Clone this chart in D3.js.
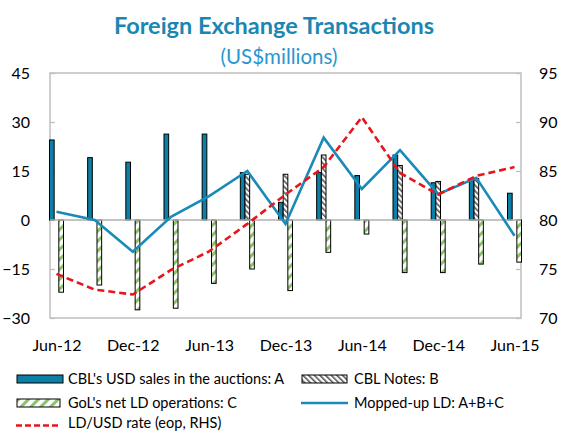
<!DOCTYPE html>
<head>
  <meta charset="utf-8">
  <script src="https://d3js.org/d3.v7.min.js"></script>
  <style>
    body { margin:0; padding:0; background:#fff; }
    text { font-family: Lato, "Open Sans", sans-serif; fill:#000; }
  </style>
</head>
<body>
  <svg id="chart" width="562" height="431"></svg>
  <script>
    var width  = 562;
    var height = 431;

    // quarterly data, US$ millions (left axis) and LD per USD (right axis)
    var quarters  = ["Jun-12","Sep-12","Dec-12","Mar-13","Jun-13","Sep-13","Dec-13",
                     "Mar-14","Jun-14","Sep-14","Dec-14","Mar-15","Jun-15"];
    var tickLabels = ["Jun-12","Dec-12","Jun-13","Dec-13","Jun-14","Dec-14","Jun-15"];
    var cblSales  = [24.5, 19.1, 17.7, 26.3, 26.3, 14.5, 5.4, 14.5, 13.6, 19.9, 11.4, 12.7, 8.2];
    var cblNotes  = [0, 0, 0, 0, 0, 14.0, 14.0, 19.9, 0, 16.7, 11.8, 12.7, 0];
    var golOps    = [-22.1, -19.9, -27.5, -27.0, -19.4, -15.0, -21.6, -9.9, -4.3, -16.1, -16.1, -13.5, -12.9];
    var moppedUp  = [2.5, 0, -9.7, 1.0, 7.3, 15.0, -1.2, 25.2, 9.5, 21.4, 7.9, 12.9, -4.8];
    var ldRate    = [74.5, 72.9, 72.4, 74.9, 76.8, 79.6, 82.6, 85.4, 90.5, 84.8, 82.6, 84.5, 85.4];
    var leftTicks  = [-30, -15, 0, 15, 30, 45];
    var rightTicks = [70, 75, 80, 85, 90, 95];

    var plot = { left: 50, right: 521, top: 73, bottom: 318 };

    var svg = d3.select("#chart");
    var defs = svg.append("defs");

    // hatch for CBL notes (dark back-slash stripes)
    var pb = defs.append("pattern").attr("id", "hatchB")
        .attr("patternUnits", "userSpaceOnUse").attr("width", 4).attr("height", 4)
        .attr("patternTransform", "rotate(-45)");
    pb.append("rect").attr("width", 4).attr("height", 4).attr("fill", "#fff");
    pb.append("rect").attr("width", 1.6).attr("height", 4).attr("fill", "#555");

    // hatch for GoL ops (green forward-slash stripes)
    var pc = defs.append("pattern").attr("id", "hatchC")
        .attr("patternUnits", "userSpaceOnUse").attr("width", 7).attr("height", 7)
        .attr("patternTransform", "rotate(45)");
    pc.append("rect").attr("width", 7).attr("height", 7).attr("fill", "#fff");
    pc.append("rect").attr("width", 3).attr("height", 7).attr("fill", "#8cc36a");

    var x = d3.scalePoint().domain(quarters).range([plot.left, plot.right]).padding(0.17);
    var inner = d3.scaleBand().domain(["A", "B", "C"]).range([-7, 7]);
    var y = d3.scaleLinear().domain([-30, 45]).range([plot.bottom, plot.top]);
    var y2 = d3.scaleLinear().domain([70, 95]).range([plot.bottom, plot.top]);

    // title
    svg.append("text").attr("x", 274).attr("y", 34).attr("text-anchor", "middle")
      .style("font-size", "23.5px").style("font-weight", "bold").style("fill", "#1a87b2")
      .text("Foreign Exchange Transactions");
    svg.append("text").attr("x", 279).attr("y", 64).attr("text-anchor", "middle")
      .style("font-size", "20.5px").style("fill", "#2b96cf")
      .text("(US$millions)");

    // axes (ticks point inwards)
    var gl = svg.append("g").attr("transform", "translate(" + plot.left + ",0)")
      .call(d3.axisLeft(y).tickValues(leftTicks).tickSizeInner(-5).tickSizeOuter(0).tickPadding(20));
    var gr = svg.append("g").attr("transform", "translate(" + plot.right + ",0)")
      .call(d3.axisRight(y2).tickValues(rightTicks).tickSizeInner(-5).tickSizeOuter(0).tickPadding(18));
    [gl, gr].forEach(function(g) {
      g.select(".domain").remove();
      g.selectAll(".tick line").attr("stroke", "#bfbfbf").attr("stroke-width", 1.3);
      g.selectAll(".tick text").style("font-size", "16px").attr("fill", "#000");
    });

    var gx = svg.append("g").attr("transform", "translate(0," + plot.bottom + ")")
      .call(d3.axisBottom(x).tickValues(tickLabels).tickSize(0).tickPadding(22));
    gx.select(".domain").remove();
    gx.selectAll(".tick text").style("font-size", "16px").attr("fill", "#000");

    // frame
    svg.append("rect").attr("x", plot.left).attr("y", plot.top)
      .attr("width", plot.right - plot.left).attr("height", plot.bottom - plot.top)
      .attr("fill", "none").attr("stroke", "#bfbfbf").attr("stroke-width", 1.5);

    // bars
    var series = [
      { key: "A", values: cblSales, fill: "#0b7fa6" },
      { key: "B", values: cblNotes, fill: "url(#hatchB)" },
      { key: "C", values: golOps,   fill: "url(#hatchC)" }
    ];
    series.forEach(function(s) {
      svg.append("g").selectAll("rect")
        .data(s.values.map(function(v, i) { return { q: quarters[i], v: v }; })
                      .filter(function(d) { return d.v !== 0; }))
        .join("rect")
          .attr("x", function(d) { return x(d.q) + inner(s.key); })
          .attr("width", inner.bandwidth())
          .attr("y", function(d) { return y(Math.max(0, d.v)); })
          .attr("height", function(d) { return Math.abs(y(d.v) - y(0)); })
          .attr("fill", s.fill)
          .attr("stroke", "#000").attr("stroke-width", 1);
    });

    // zero line
    svg.append("line").attr("x1", plot.left).attr("x2", plot.right)
      .attr("y1", y(0)).attr("y2", y(0))
      .attr("stroke", "#b0b0b0").attr("stroke-width", 1.5);

    // lines
    var lineL = d3.line().x(function(d, i) { return x(quarters[i]); }).y(function(d) { return y(d); });
    var lineR = d3.line().x(function(d, i) { return x(quarters[i]); }).y(function(d) { return y2(d); });

    svg.append("path").attr("d", lineL(moppedUp))
      .attr("fill", "none").attr("stroke", "#1a8ab8").attr("stroke-width", 2.6);
    svg.append("path").attr("d", lineR(ldRate))
      .attr("fill", "none").attr("stroke", "#e8161b").attr("stroke-width", 2.6)
      .attr("stroke-dasharray", "7,4");

    // legend
    var lg = svg.append("g").style("font-size", "14.5px");
    function swatch(x0, y0, w, fill) {
      lg.append("rect").attr("x", x0).attr("y", y0).attr("width", w).attr("height", 8)
        .attr("fill", fill).attr("stroke", "#000").attr("stroke-width", 1);
    }
    function label(x0, y0, t) {
      lg.append("text").attr("x", x0).attr("y", y0).text(t);
    }
    swatch(17, 375, 46, "#0b7fa6");
    label(68, 384, "CBL's USD sales in the auctions: A");
    swatch(302, 375, 45, "url(#hatchB)");
    label(354, 384, "CBL Notes: B");
    swatch(17, 399, 43, "url(#hatchC)");
    label(68, 408, "GoL's net LD operations: C");
    lg.append("line").attr("x1", 301).attr("x2", 348).attr("y1", 403).attr("y2", 403)
      .attr("stroke", "#1a8ab8").attr("stroke-width", 2.6);
    label(354, 408, "Mopped-up LD: A+B+C");
    lg.append("line").attr("x1", 16).attr("x2", 58).attr("y1", 425.5).attr("y2", 425.5)
      .attr("stroke", "#e8161b").attr("stroke-width", 2.6).attr("stroke-dasharray", "6,3");
    label(68, 428, "LD/USD rate (eop, RHS)");
  </script>
</body>
